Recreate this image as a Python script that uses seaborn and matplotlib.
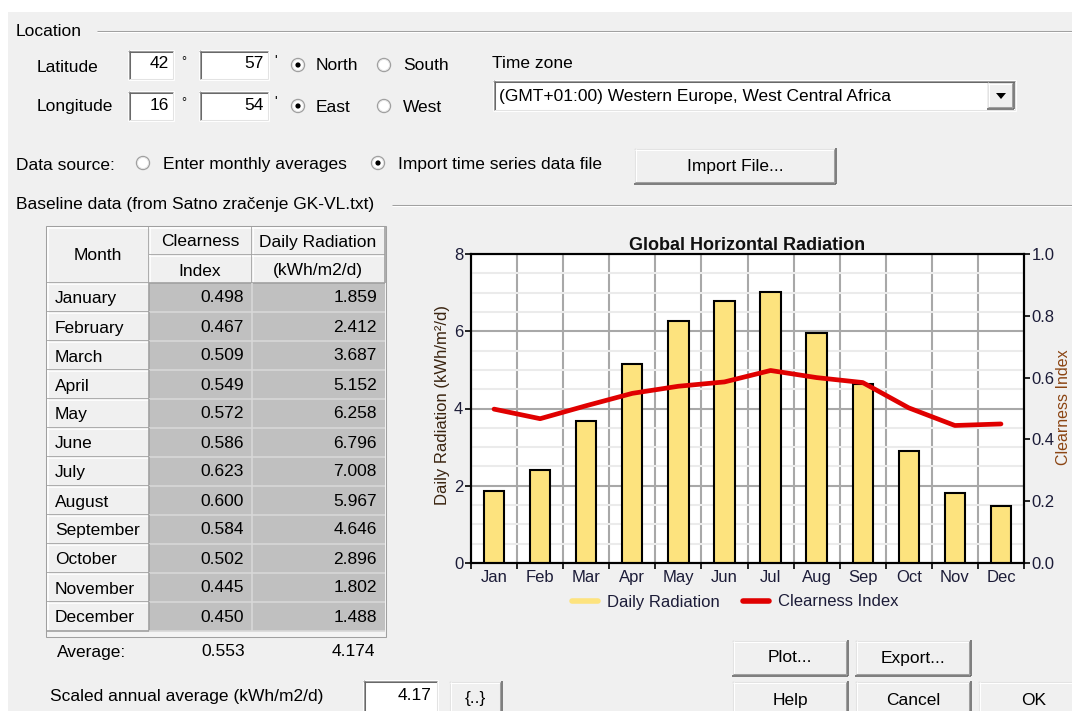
import matplotlib
matplotlib.use('Agg')
import matplotlib.pyplot as plt
from matplotlib.patches import Rectangle, Circle, Polygon
from matplotlib.lines import Line2D
import numpy as np
import pandas as pd
import seaborn as sns

months = ['January', 'February', 'March', 'April', 'May', 'June', 'July',
          'August', 'September', 'October', 'November', 'December']
month_abbr = ['Jan', 'Feb', 'Mar', 'Apr', 'May', 'Jun', 'Jul', 'Aug', 'Sep', 'Oct', 'Nov', 'Dec']
clearness_index = [0.498, 0.467, 0.509, 0.549, 0.572, 0.586, 0.623, 0.600, 0.584, 0.502, 0.445, 0.450]
daily_radiation = [1.859, 2.412, 3.687, 5.152, 6.258, 6.796, 7.008, 5.967, 4.646, 2.896, 1.802, 1.488]
average_clearness = 0.553
average_radiation = 4.174
scaled_average = 4.17
radiation_ticks = [0, 2, 4, 6, 8]
clearness_ticks = [0.0, 0.2, 0.4, 0.6, 0.8, 1.0]

sns.set_theme(style='white')
plt.rcParams['font.family'] = ['Liberation Sans', 'DejaVu Sans']

BG = '#F0F0F0'
FS = 12.5
fig = plt.figure(figsize=(10.72, 7.11), dpi=100, facecolor='white')

# full-figure axes in pixel units for the dialog widgets
ui = fig.add_axes([0, 0, 1, 1])
ui.set_xlim(0, 1072)
ui.set_ylim(711, 0)
ui.axis('off')
ui.add_patch(Rectangle((8, 12), 1080, 720, fc=BG, ec='none'))


def txt(x, y, s, ha='left', size=FS, **kw):
    ui.text(x, y, s, ha=ha, va='center', fontsize=size, color='black', **kw)


def hline(x0, x1, y, c, lw=0.75):
    ui.add_line(Line2D([x0, x1], [y, y], color=c, lw=lw, solid_capstyle='butt'))


def vline(x, y0, y1, c, lw=0.75):
    ui.add_line(Line2D([x, x], [y0, y1], color=c, lw=lw, solid_capstyle='butt'))


def etched(x0, x1, y):
    hline(x0, x1, y, '#A0A0A0')
    hline(x0, x1, y + 1, 'white')


def sunken(x0, y0, x1, y1, fc='white'):
    ui.add_patch(Rectangle((x0, y0), x1 - x0, y1 - y0, fc=fc, ec='none'))
    hline(x0, x1, y0 + 0.5, '#A0A0A0')
    vline(x0 + 0.5, y0, y1, '#A0A0A0')
    hline(x0 + 1, x1 - 1, y0 + 1.5, '#696969')
    vline(x0 + 1.5, y0 + 1, y1 - 1, '#696969')
    hline(x0, x1, y1 - 0.5, 'white')
    vline(x1 - 0.5, y0, y1, 'white')
    hline(x0 + 1, x1 - 1, y1 - 1.5, '#E3E3E3')
    vline(x1 - 1.5, y0 + 1, y1 - 1, '#E3E3E3')


def button(x0, y0, x1, y1, label):
    ui.add_patch(Rectangle((x0, y0), x1 - x0, y1 - y0, fc='#F0F0F0', ec='none'))
    hline(x0, x1, y0 + 0.5, '#E3E3E3')
    vline(x0 + 0.5, y0, y1, '#E3E3E3')
    hline(x0 + 1, x1 - 1, y0 + 1.5, 'white')
    vline(x0 + 1.5, y0 + 1, y1 - 1, 'white')
    hline(x0, x1, y1 - 0.5, '#696969', lw=1.2)
    vline(x1 - 0.5, y0, y1, '#696969', lw=1.2)
    hline(x0 + 1, x1 - 1, y1 - 2, '#A0A0A0')
    vline(x1 - 2, y0 + 1, y1 - 1, '#A0A0A0')
    txt((x0 + x1) / 2, (y0 + y1) / 2, label, ha='center')


def radio(cx, cy, on):
    ui.add_patch(Circle((cx, cy), 6.5, fc='white', ec='#A0A0A0', lw=1.0))
    ui.add_patch(Circle((cx, cy), 5.5, fc='none', ec='#E3E3E3', lw=0.6))
    if on:
        ui.add_patch(Circle((cx, cy), 2.6, fc='black', ec='none'))


# Location group
txt(16, 31, 'Location')
etched(97, 1072, 31)
txt(37, 67, 'Latitude')
txt(37, 107, 'Longitude')
for y0, deg, mins, on1, on2 in [(50, '42', '57', 'North', 'South'), (91, '16', '54', 'East', 'West')]:
    sunken(128, y0, 174, y0 + 30)
    txt(169, y0 + 14, deg, ha='right')
    txt(181, y0 + 12, '°', size=9)
    sunken(199, y0, 269, y0 + 30)
    txt(264, y0 + 14, mins, ha='right')
    txt(274, y0 + 11, "'", size=10)
    radio(298, y0 + 15, True)
    txt(316, y0 + 16, on1)
    radio(384, y0 + 15, False)
    txt(403, y0 + 16, on2)

txt(492, 63, 'Time zone')
sunken(493, 80, 1016, 111)
txt(499, 96, '(GMT+01:00) Western Europe, West Central Africa')
button(987, 82, 1014, 109, '')
ui.add_patch(Polygon([[996, 93], [1006, 93], [1001, 99]], closed=True, fc='black', ec='none'))

# Data source row
txt(16, 165, 'Data source:')
radio(143, 163, False)
txt(163, 165, 'Enter monthly averages')
radio(378, 163, True)
txt(398, 165, 'Import time series data file')
button(634, 148, 836, 184, 'Import File...')

txt(16, 204, 'Baseline data (from Satno zračenje GK-VL.txt)')
etched(392, 1072, 205)

# baseline data table
ROW_TOP = 283
ROW_H = 29
ui.add_patch(Rectangle((46, 226), 340, 411, fc='#F4F4F4', ec='#A0A0A0', lw=0.75))


def header_cell(x0, y0, x1, y1, fc='#F0F0F0'):
    ui.add_patch(Rectangle((x0, y0), x1 - x0, y1 - y0, fc=fc, ec='none'))
    hline(x0, x1, y0 + 0.5, 'white', lw=1.2)
    vline(x0 + 0.5, y0, y1, 'white', lw=1.2)
    hline(x0, x1, y1 - 0.5, '#A0A0A0', lw=1.2)
    vline(x1 - 0.5, y0, y1, '#A0A0A0', lw=1.2)


header_cell(47, 227, 149, ROW_TOP)
header_cell(149, 227, 252, 255)
header_cell(149, 255, 252, ROW_TOP)
header_cell(252, 227, 385, 255)
header_cell(252, 255, 385, ROW_TOP)
txt(98, 256, 'Month', ha='center')
txt(200, 242, 'Clearness', ha='center')
txt(200, 271, 'Index', ha='center')
txt(318, 242, 'Daily Radiation', ha='center')
txt(318, 271, '(kWh/m2/d)', ha='center')

n_rows = len(months)
ui.add_patch(Rectangle((149, ROW_TOP), 236, n_rows * ROW_H, fc='#C0C0C0', ec='none'))
for i, (m, k, r) in enumerate(zip(months, clearness_index, daily_radiation)):
    y0 = ROW_TOP + i * ROW_H
    header_cell(47, y0, 149, y0 + ROW_H)
    hline(149, 385, y0 + ROW_H - 0.5, '#D8D8D8', lw=1.2)
    txt(55, y0 + 16, m)
    txt(244, y0 + 15, f'{k:.3f}', ha='right')
    txt(377, y0 + 15, f'{r:.3f}', ha='right')
vline(251.5, ROW_TOP, ROW_TOP + n_rows * ROW_H, '#D8D8D8', lw=1.2)

txt(57, 653, 'Average:')
txt(245, 652, f'{average_clearness:.3f}', ha='right')
txt(375, 652, f'{average_radiation:.3f}', ha='right')

txt(50, 697, 'Scaled annual average (kWh/m2/d)')
sunken(363, 680, 438, 715)
txt(432, 695, f'{scaled_average:.2f}', ha='right')
button(449, 681, 502, 715, '{..}')

button(732, 640, 848, 676, 'Plot...')
button(855, 640, 971, 676, 'Export...')
button(732, 681, 848, 720, 'Help')
button(855, 681, 971, 720, 'Cancel')
button(978, 681, 1090, 720, 'OK')

# chart
TICK_C = '#1c1c38'
ax = fig.add_axes([471 / 1072, (711 - 563) / 711, 553 / 1072, 309 / 711])
ax.set_facecolor('white')
df = pd.DataFrame({'Month': month_abbr, 'Daily Radiation': daily_radiation,
                   'Clearness Index': clearness_index})
sns.barplot(data=df, x='Month', y='Daily Radiation', color='#FDE37E', saturation=1,
            width=0.44, edgecolor='black', linewidth=1.5, ax=ax, zorder=3)
ax.set_xlim(-0.5, len(month_abbr) - 0.5)
ax.set_ylim(0, 8)
ax.set_yticks(radiation_ticks)
ax.set_yticks(np.arange(0, 8.01, 0.5), minor=True)
ax.set_xticks(np.arange(-0.5, len(month_abbr), 1), minor=True)
ax.set_axisbelow(True)
ax.grid(which='major', axis='y', color='#A8A8A8', lw=1.5)
ax.grid(which='minor', axis='y', color='#EBEBEB', lw=1.5)
ax.grid(which='minor', axis='x', color='#A8A8A8', lw=1.5)
ax.grid(which='major', axis='x', visible=False)
ax.tick_params(axis='x', which='major', length=0, pad=5, labelsize=12, labelcolor=TICK_C)
ax.tick_params(axis='x', which='minor', length=4, width=1.2, color='black', direction='out', bottom=True)
ax.tick_params(axis='y', which='major', length=4, width=1.2, color='black', direction='out',
               left=True, pad=1.5, labelsize=12, labelcolor=TICK_C)
ax.tick_params(axis='y', which='minor', length=0)
for s in ax.spines.values():
    s.set_color('black')
    s.set_linewidth(1.5)
ax.set_xlabel('')
ax.set_ylabel('Daily Radiation (kWh/m²/d)', fontsize=12, color='#3a2410')
ax.yaxis.set_label_coords(-0.038, 0.51)
ax.set_title('Global Horizontal Radiation', fontsize=13, fontweight='bold', color='#111111', pad=3)

ax2 = ax.twinx()
sns.lineplot(x=np.arange(len(month_abbr)), y=clearness_index, color='#E00000', lw=3.4, ax=ax2)
ax2.set_ylim(0, 1)
ax2.set_yticks(clearness_ticks)
ax2.set_yticklabels([f'{t:.1f}' for t in clearness_ticks])
ax2.tick_params(axis='y', length=4, width=1.2, color='black', direction='out', right=True,
                pad=1.5, labelsize=12, labelcolor=TICK_C)
ax2.grid(False)
for s in ax2.spines.values():
    s.set_color('black')
    s.set_linewidth(1.5)
# kept just inside the right edge (the reference clips it)
ax2.set_ylabel('Clearness Index', fontsize=11.5, color='#8B4513', rotation=90)
ax2.yaxis.set_label_coords(1.0575, 0.505)

handles = [Line2D([], [], color='#FDE37E', lw=4), Line2D([], [], color='#E00000', lw=4)]
fig.legend(handles, ['Daily Radiation', 'Clearness Index'], loc='center',
           bbox_to_anchor=(735 / 1072, (711 - 602) / 711), ncol=2, frameon=False,
           fontsize=12, handlelength=1.6, handletextpad=0.5, columnspacing=1.4,
           labelcolor=TICK_C)

fig.savefig('out.png', dpi=100, facecolor=fig.get_facecolor())
